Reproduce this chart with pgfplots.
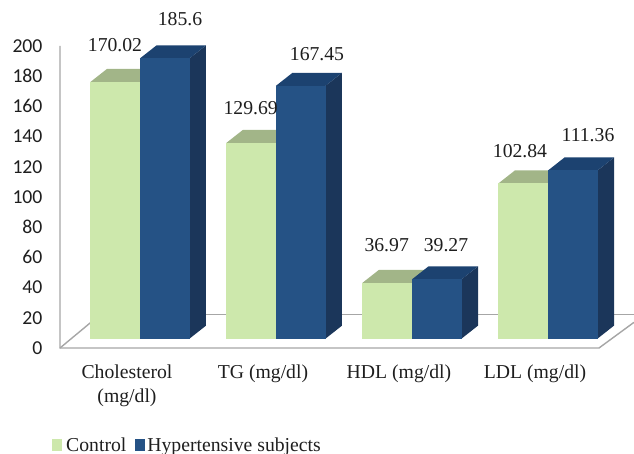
\documentclass[border=0pt]{standalone}
\usepackage{pgfplots}
\pgfplotsset{compat=1.18}
\usepackage{fontspec}
\setmainfont{Liberation Serif}
\newfontfamily\tickfont{Carlito}
\definecolor{ctrlfront}{HTML}{CDE8AC}
\definecolor{ctrltop}{HTML}{A2B588}
\definecolor{ctrlside}{HTML}{8FA377}
\definecolor{hypfront}{HTML}{255285}
\definecolor{hyptop}{HTML}{1C4270}
\definecolor{hypside}{HTML}{1B365A}
\definecolor{frame}{HTML}{A6A6A6}
\definecolor{ink}{HTML}{1E1E1E}
\newcommand{\basey}{6.2}   % bars stand on the floor, above the front edge
\newcommand{\depthx}{0.1213}
\newcommand{\depthy}{8.6}
\newcommand{\barwidth}{0.3640}

% One extruded bar: #1 category position, #2 value, #3 +1 right of centre or -1 left,
% #4/#5/#6 front, top and side colours
\newcommand{\solidbar}[6]{%
  \pgfmathsetmacro{\xa}{#1+(#3-1)/2*\barwidth}%
  \pgfmathsetmacro{\xb}{\xa+\barwidth}%
  \pgfmathsetmacro{\xc}{\xa+\depthx}%
  \pgfmathsetmacro{\xd}{\xb+\depthx}%
  \pgfmathsetmacro{\yt}{#2+\basey}%
  \pgfmathsetmacro{\yb}{\yt+\depthy}%
  \pgfmathsetmacro{\yf}{\basey+\depthy}%
  \addplot[fill=#6,draw=none,forget plot] coordinates {(\xb,\basey)(\xd,\yf)(\xd,\yb)(\xb,\yt)} --cycle;
  \addplot[fill=#5,draw=none,forget plot] coordinates {(\xa,\yt)(\xb,\yt)(\xd,\yb)(\xc,\yb)} --cycle;
  \addplot[fill=#4,draw=none,forget plot] coordinates {(\xa,\basey)(\xb,\basey)(\xb,\yt)(\xa,\yt)} --cycle;
}
% Value label, centred on #1,#2 measured from the top left of the figure
\newcommand{\vallabel}[3]{%
  \pgfmathsetmacro{\lx}{(#1-140)/136}%
  \pgfmathsetmacro{\ly}{(348-#2)/1.51}%
  \edef\temp{\noexpand\node[font=\noexpand\valfont,text=ink,inner sep=0pt] at (axis cs:\lx,\ly) {#3};}\temp
}
\newcommand{\valfont}{\fontsize{19.7}{24}\selectfont}

\begin{document}
\begin{tikzpicture}[x=1pt,y=1pt]
\path[use as bounding box] (-60,-106) rectangle (574,348);
\begin{axis}[
  scale only axis,
  width=574pt,
  height=302pt,
  xmin=-0.5882, xmax=3.6324,
  ymin=0, ymax=200,
  clip=false,
  axis line style={draw=none},
  tick style={draw=none},
  axis x line*=bottom,
  axis y line*=left,
  ytick={0,20,...,200},
  xtick={0,1,2,3},
  xticklabels={{Cholesterol\\(mg/dl)},{TG (mg/dl)},{HDL (mg/dl)},{LDL (mg/dl)}},
  /pgf/number format/assume math mode=true,
  yticklabel style={font=\tickfont\fontsize{19.7}{22}\selectfont,text=ink,xshift=-14pt},
  xticklabel style={font=\valfont,text=ink,align=center,xshift=-13pt,yshift=-13pt,text depth=0pt,anchor=north},
  legend style={
    at={(axis cs:-0.6470,-57.8)},anchor=north west,draw=none,fill=none,inner sep=0pt,
    font=\valfont,text=ink,
    /tikz/every even column/.append style={column sep=7pt},
  },
  legend columns=2,
  legend image code/.code={\fill[#1,draw=none] (0pt,-6pt) rectangle (10pt,6pt);},
]
% floor outline and vertical axis
\addplot[draw=frame,line width=1.4pt,forget plot] coordinates {(-0.5882,200)(-0.5882,0)(3.3750,0)(3.6324,17)};
\addplot[draw=frame,line width=1.4pt,forget plot] coordinates {(-0.5882,0)(-0.2941,22)};
\addplot[draw=frame,line width=1.4pt,forget plot] coordinates {(-0.2941,22)(3.6324,22)};

\addlegendimage{fill=ctrlfront}\addlegendentry{\hspace{2pt}Control}
\addlegendimage{fill=hypfront}\addlegendentry{Hypertensive subjects}

\solidbar{0}{170.02}{-1}{ctrlfront}{ctrltop}{ctrlside}
\solidbar{0}{185.6}{1}{hypfront}{hyptop}{hypside}
\solidbar{1}{129.69}{-1}{ctrlfront}{ctrltop}{ctrlside}
\solidbar{1}{167.45}{1}{hypfront}{hyptop}{hypside}
\solidbar{2}{36.97}{-1}{ctrlfront}{ctrltop}{ctrlside}
\solidbar{2}{39.27}{1}{hypfront}{hyptop}{hypside}
\solidbar{3}{102.84}{-1}{ctrlfront}{ctrltop}{ctrlside}
\solidbar{3}{111.36}{1}{hypfront}{hyptop}{hypside}

\vallabel{115}{45}{170.02}
\vallabel{180}{19}{185.6}
\vallabel{250.7}{108}{129.69}
\vallabel{317}{54}{167.45}
\vallabel{386.7}{245.5}{36.97}
\vallabel{446}{245}{39.27}
\vallabel{520}{151}{102.84}
\vallabel{588}{135}{111.36}
\end{axis}
\end{tikzpicture}
\end{document}
